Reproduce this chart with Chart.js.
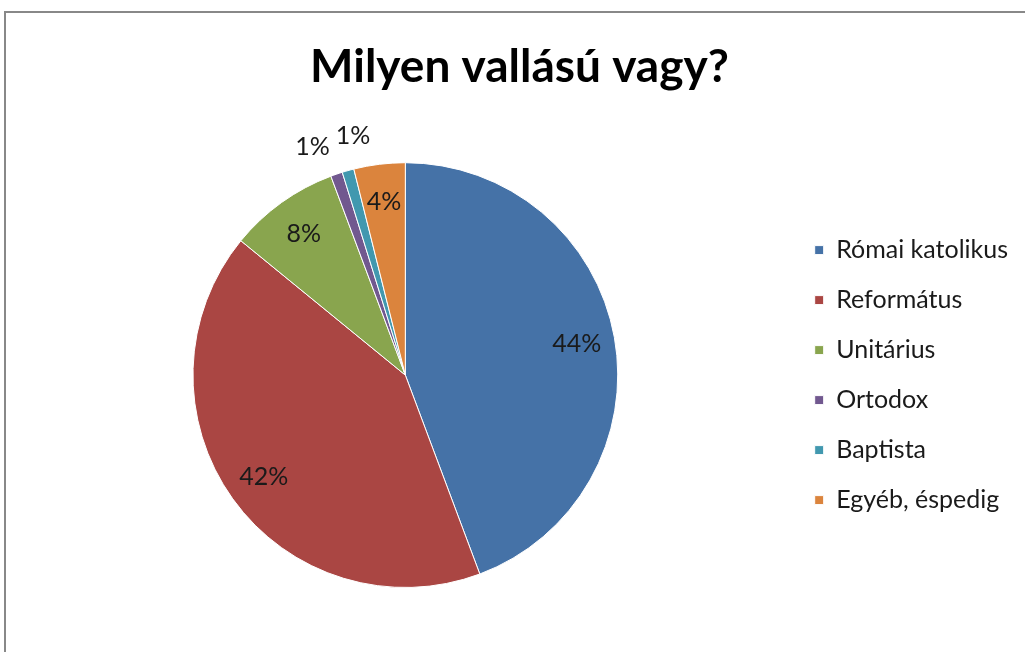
<!DOCTYPE html>
<html>
<head>
<meta charset="utf-8">
<script src="https://cdn.jsdelivr.net/npm/chart.js@4.4.1/dist/chart.umd.min.js"></script>
<style>
  html, body { margin: 0; padding: 0; background: #fff; }
  #wrap { position: relative; width: 1025px; height: 652px; }
</style>
</head>
<body>
<div id="wrap"><canvas id="chart" width="1025" height="652"></canvas></div>
<script>
// data
const categories = ['Római katolikus', 'Református', 'Unitárius', 'Ortodox', 'Baptista', 'Egyéb, éspedig'];
const shares = [44.3, 41.6, 8.4, 0.9, 0.9, 3.9];
const sliceColors = ['#4572A7', '#AA4643', '#89A54E', '#71588F', '#4198AF', '#DB843D'];

const fontFamily = 'Lato, "Open Sans", sans-serif';

// grey frame cut off at right and bottom, as in the original screenshot
const framePlugin = {
    id: 'frame',
    beforeDraw(chart) {
        const ctx = chart.ctx;
        ctx.save();
        ctx.strokeStyle = '#888888';
        ctx.lineWidth = 2;
        ctx.beginPath();
        ctx.moveTo(5, chart.height);
        ctx.lineTo(5, 12);
        ctx.lineTo(chart.width, 12);
        ctx.stroke();
        ctx.restore();
    }
};

// percent labels: inside for big slices, outside for tiny ones
const pctLabels = {
    id: 'pctLabels',
    afterDatasetsDraw(chart) {
        const ctx = chart.ctx;
        const meta = chart.getDatasetMeta(0);
        const total = shares.reduce((a, b) => a + b, 0);
        const spots = [];
        ctx.save();
        ctx.font = '25px ' + fontFamily;
        ctx.fillStyle = '#1a1a1a';
        ctx.textAlign = 'center';
        ctx.textBaseline = 'middle';
        meta.data.forEach((arc, i) => {
            const p = arc.getProps(['x', 'y', 'startAngle', 'endAngle', 'outerRadius']);
            const mid = (p.startAngle + p.endAngle) / 2;
            const pct = shares[i] / total * 100;
            const outside = pct < 2;
            const r = p.outerRadius * (outside ? 1.15 : 0.82);
            const spot = {
                x: p.x + Math.cos(mid) * r,
                y: p.y + Math.sin(mid) * r,
                txt: Math.round(pct) + '%',
                outside
            };
            const prev = spots[spots.length - 1];
            if (outside && prev && prev.outside) {
                const gap = ctx.measureText(spot.txt).width + 6;
                if (spot.x - prev.x < gap) {
                    const push = (gap - (spot.x - prev.x)) / 2;
                    prev.x -= push;
                    spot.x += push;
                    prev.y += 3;
                    spot.y -= 4;
                }
            }
            spots.push(spot);
        });
        spots.forEach(s => ctx.fillText(s.txt, s.x, s.y));
        ctx.restore();
    }
};

new Chart(document.getElementById('chart'), {
    type: 'pie',
    data: {
        labels: categories,
        datasets: [{
            data: shares,
            backgroundColor: sliceColors,
            borderColor: '#ffffff',
            borderWidth: 1
        }]
    },
    options: {
        responsive: false,
        animation: false,
        layout: { padding: { top: 0, bottom: 64, left: 21, right: 7 } },
        plugins: {
            title: {
                display: true,
                text: 'Milyen vallású vagy?',
                color: '#000',
                font: { family: fontFamily, size: 46, weight: 'bold' },
                padding: { top: 40, bottom: 67 }
            },
            legend: {
                position: 'right',
                fullSize: false,
                labels: {
                    boxWidth: 9,
                    boxHeight: 9,
                    padding: 25,
                    color: '#1a1a1a',
                    font: { family: fontFamily, size: 25 }
                }
            },
            tooltip: { enabled: false }
        }
    },
    plugins: [framePlugin, pctLabels]
});
</script>
</body>
</html>
